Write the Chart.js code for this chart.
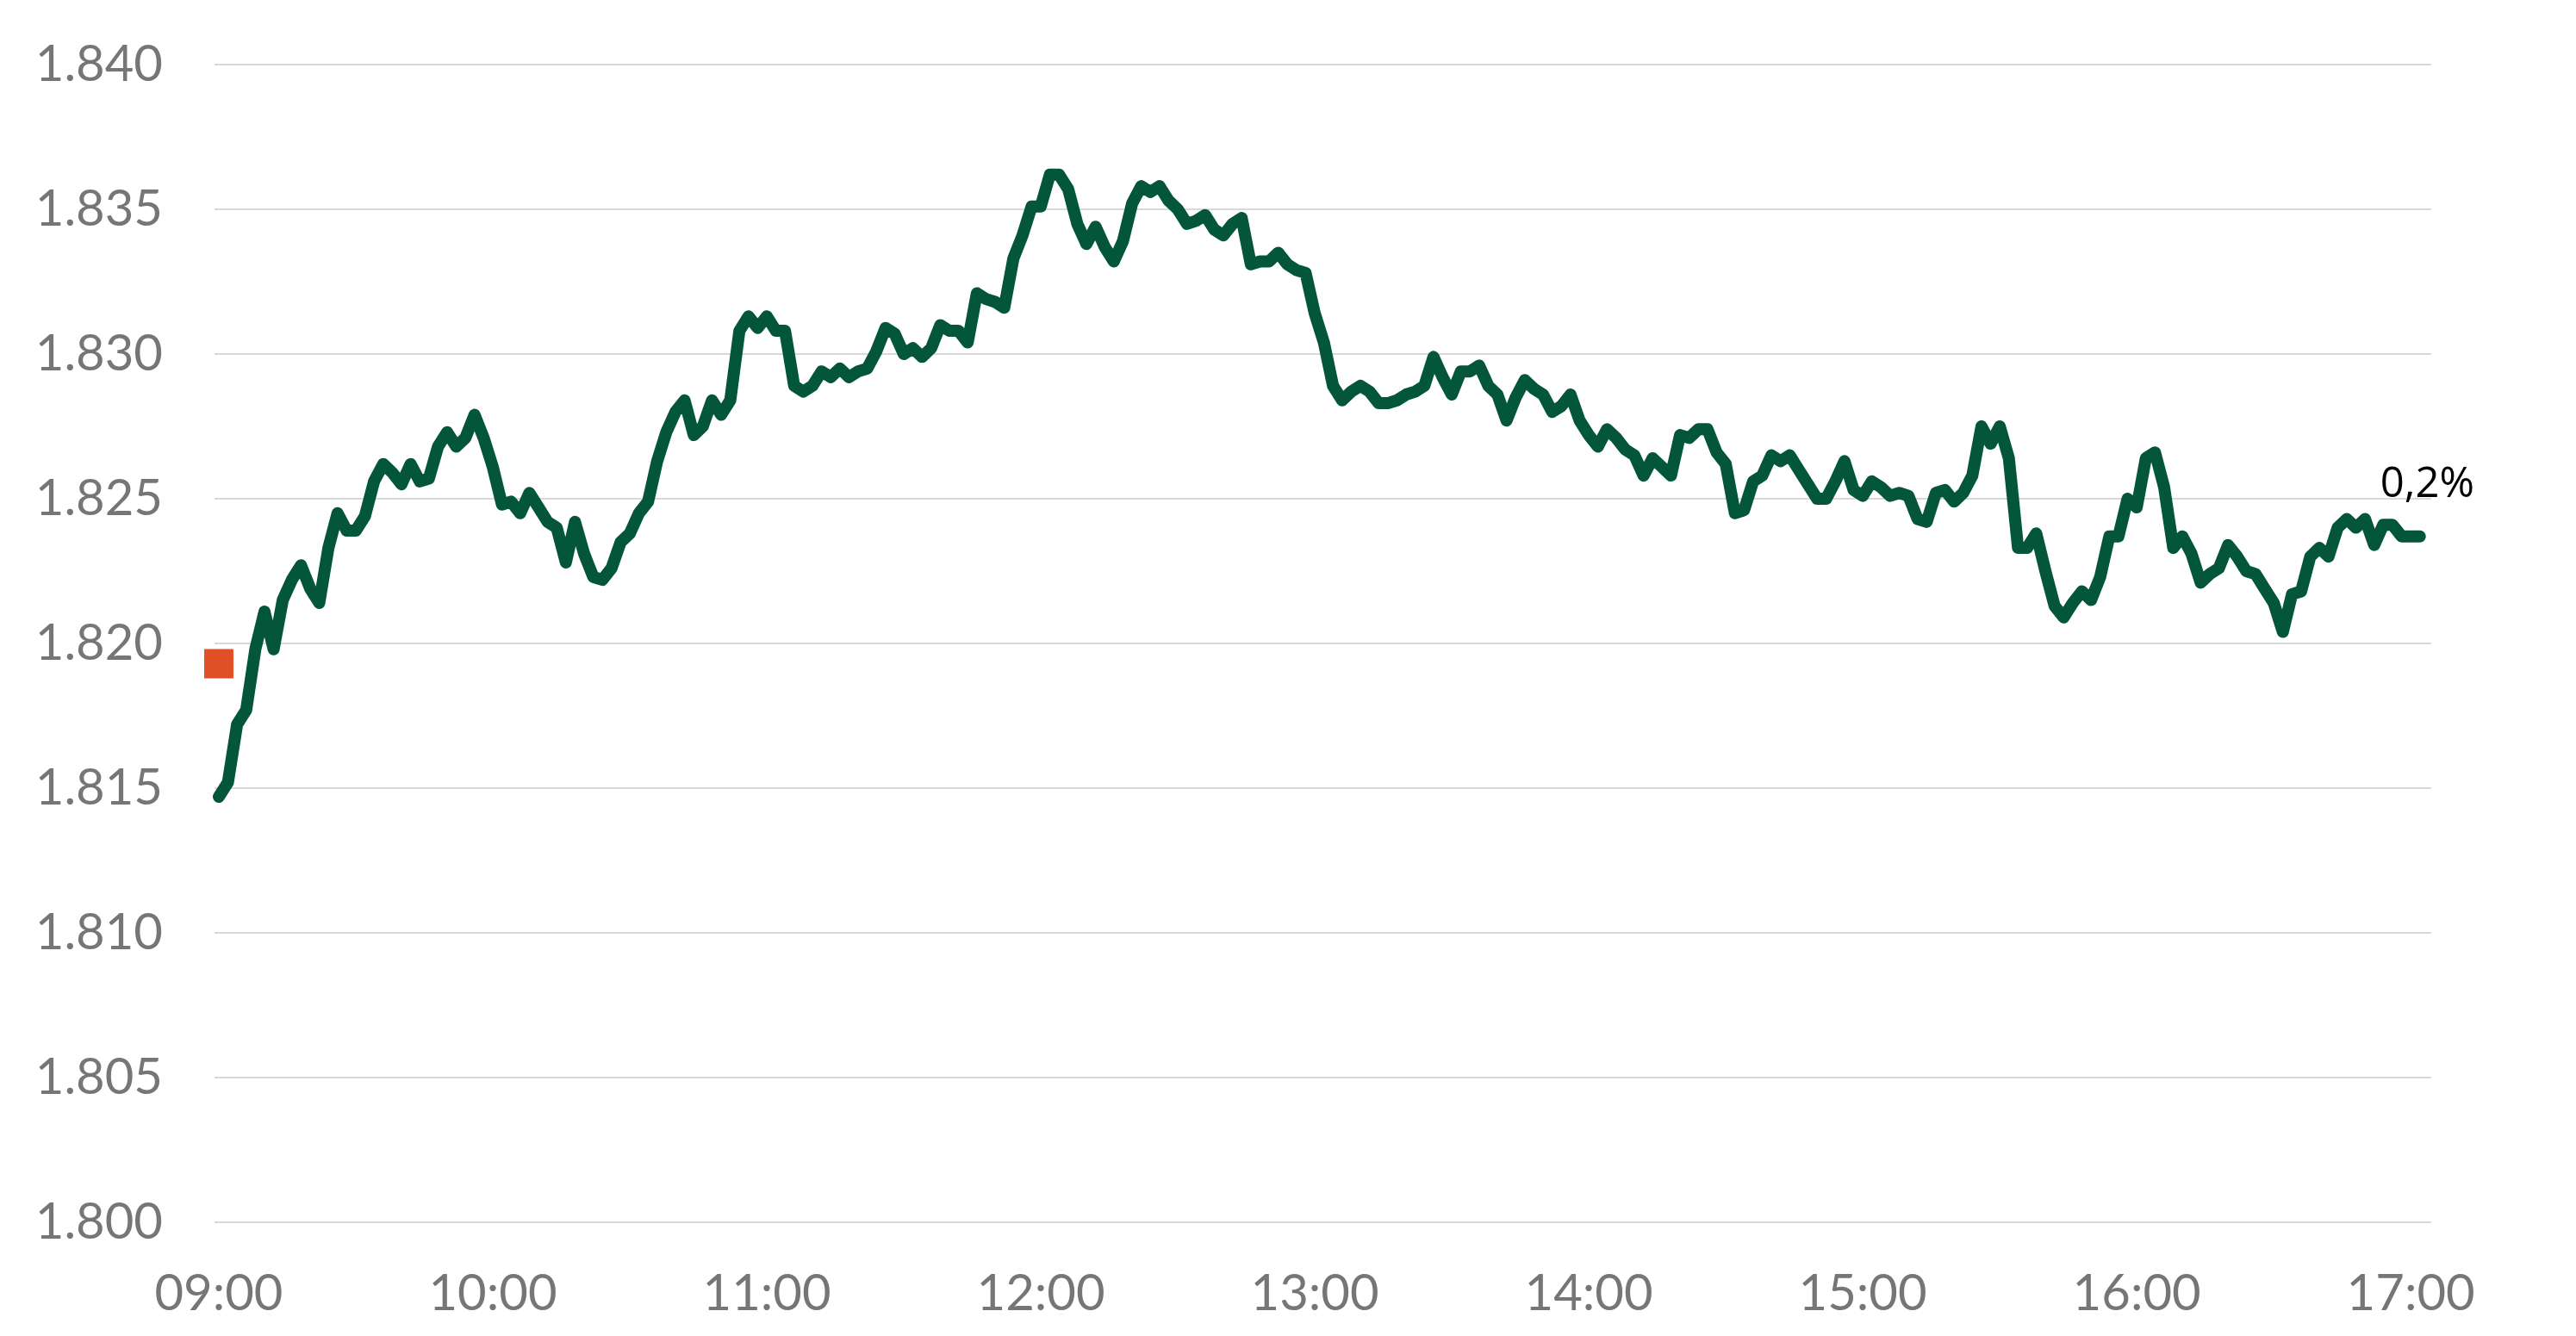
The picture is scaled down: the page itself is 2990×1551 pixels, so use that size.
<!DOCTYPE html>
<html>
<head>
<meta charset="utf-8">
<script src="https://cdn.jsdelivr.net/npm/chart.js@4.4.1/dist/chart.umd.min.js"></script>
<style>
html,body{margin:0;padding:0;background:#ffffff;}
canvas{display:block;}
</style>
</head>
<body>
<canvas id="c" width="2990" height="1551"></canvas>
<script>
// ---- data ----
const startTime = '09:00';
const stepMinutes = 2;
const prices = [
  // 09:00 - 10:02
  1814.7, 1815.2, 1817.2, 1817.7, 1819.8, 1821.1, 1819.8, 1821.5, 1822.2, 1822.7,
  1821.9, 1821.4, 1823.3, 1824.5, 1823.9, 1823.9, 1824.4, 1825.6, 1826.2, 1825.9,
  1825.5, 1826.2, 1825.6, 1825.7, 1826.8, 1827.3, 1826.8, 1827.1, 1827.9, 1827.1,
  1826.1, 1824.8,
  // next hour
  1824.9, 1824.5, 1825.2, 1824.7, 1824.2, 1824.0, 1822.8, 1824.2, 1823.1, 1822.3,
  1822.2, 1822.6, 1823.5, 1823.8, 1824.5, 1824.9, 1826.3, 1827.3, 1828.0, 1828.4,
  1827.2, 1827.5, 1828.4, 1827.9, 1828.4, 1830.8, 1831.3, 1830.9, 1831.3, 1830.8,
  // next hour
  1830.8, 1828.9, 1828.7, 1828.9, 1829.4, 1829.2, 1829.5, 1829.2, 1829.4, 1829.5,
  1830.1, 1830.9, 1830.7, 1830.0, 1830.2, 1829.9, 1830.2, 1831.0, 1830.8, 1830.8,
  1830.4, 1832.1, 1831.9, 1831.8, 1831.6, 1833.3, 1834.1, 1835.1, 1835.1, 1836.2,
  // next hour
  1836.2, 1835.7, 1834.5, 1833.8, 1834.4, 1833.7, 1833.2, 1833.9, 1835.2, 1835.8,
  1835.6, 1835.8, 1835.3, 1835.0, 1834.5, 1834.6, 1834.8, 1834.3, 1834.1, 1834.5,
  1834.7, 1833.1, 1833.2, 1833.2, 1833.5, 1833.1, 1832.9, 1832.8, 1831.4,
  // next hour
  1830.4, 1828.9, 1828.4, 1828.7, 1828.9, 1828.7, 1828.3, 1828.3, 1828.4, 1828.6,
  1828.7, 1828.9, 1829.9, 1829.2, 1828.6, 1829.4, 1829.4, 1829.6, 1828.9, 1828.6,
  1827.7, 1828.5, 1829.1, 1828.8, 1828.6, 1828.0, 1828.2, 1828.6, 1827.7, 1827.2,
  1826.8,
  // next hour
  1827.4, 1827.1, 1826.7, 1826.5, 1825.8, 1826.4, 1826.1, 1825.8, 1827.2, 1827.1,
  1827.4, 1827.4, 1826.6, 1826.2, 1824.5, 1824.6, 1825.6, 1825.8, 1826.5, 1826.3,
  1826.5, 1826.0, 1825.5, 1825.0, 1825.0, 1825.6, 1826.3, 1825.3, 1825.1, 1825.6,
  // next hour
  1825.4, 1825.1, 1825.2, 1825.1, 1824.3, 1824.2, 1825.2, 1825.3, 1824.9, 1825.2,
  1825.8, 1827.5, 1826.9, 1827.5, 1826.4, 1823.3, 1823.3, 1823.8, 1822.5, 1821.3,
  1820.9, 1821.4, 1821.8, 1821.5, 1822.3, 1823.7, 1823.7, 1825.0, 1824.7, 1826.4,
  1826.6,
  // last hour
  1825.4, 1823.3, 1823.7, 1823.1, 1822.1, 1822.4, 1822.6, 1823.4, 1823.0, 1822.5,
  1822.4, 1821.9, 1821.4, 1820.4, 1821.7, 1821.8, 1823.0, 1823.3, 1823.0, 1824.0,
  1824.3, 1824.0, 1824.3, 1823.4, 1824.1, 1824.1, 1823.7, 1823.7, 1823.7
];
const previousClose = 1819.3;
const changeLabel = '0,2%';
const xTickLabels = ['09:00','10:00','11:00','12:00','13:00','14:00','15:00','16:00','17:00'];
const yTickValues = [1800, 1805, 1810, 1815, 1820, 1825, 1830, 1835, 1840];
const yTickLabels = ['1.800','1.805','1.810','1.815','1.820','1.825','1.830','1.835','1.840'];

// ---- helpers ----
function toMinutes(s) {
  const [h, m] = s.split(':').map(Number);
  const [h0, m0] = startTime.split(':').map(Number);
  return (h - h0) * 60 + (m - m0);
}
const startMin = (() => { const [h, m] = startTime.split(':').map(Number); return h * 60 + m; })();
const times = prices.map((_, i) => {
  const t = startMin + i * stepMinutes;
  return String(Math.floor(t / 60)).padStart(2, '0') + ':' + String(t % 60).padStart(2, '0');
});
const lineData = prices.map((v, i) => ({ x: toMinutes(times[i]), y: v }));
const xTickMinutes = xTickLabels.map(toMinutes);

const GREEN = '#03563A';
const RED = '#E14F26';
const TICK_COLOR = '#767676';
const GRID_COLOR = '#d9d9d9';

const endLabel = {
  id: 'endLabel',
  afterDatasetsDraw(chart) {
    const meta = chart.getDatasetMeta(0);
    const p = meta.data[meta.data.length - 1];
    const ctx = chart.ctx;
    ctx.save();
    ctx.font = '49px "Open Sans"';
    ctx.fillStyle = '#000000';
    ctx.textAlign = 'left';
    ctx.textBaseline = 'alphabetic';
    ctx.fillText(changeLabel, p.x - 46, p.y - 46);
    ctx.restore();
  }
};

new Chart(document.getElementById('c'), {
  type: 'line',
  data: {
    datasets: [
      {
        data: lineData,
        borderColor: GREEN,
        borderWidth: 14,
        borderCapStyle: 'round',
        borderJoinStyle: 'round',
        pointRadius: 0,
        tension: 0,
        fill: false,
        clip: false
      },
      {
        data: [{ x: toMinutes(startTime), y: previousClose }],
        showLine: false,
        pointStyle: 'rect',
        pointRadius: 24,
        pointBackgroundColor: RED,
        pointBorderWidth: 0,
        borderWidth: 0,
        clip: false
      }
    ]
  },
  options: {
    responsive: false,
    devicePixelRatio: 1,
    animation: false,
    events: [],
    layout: { padding: { top: 75, right: 168, bottom: 0, left: 0 } },
    plugins: { legend: { display: false }, tooltip: { enabled: false } },
    scales: {
      x: {
        type: 'linear',
        min: -0.94,
        max: 484.5,
        grid: { display: false, drawTicks: false },
        border: { display: false },
        afterBuildTicks(scale) { scale.ticks = xTickMinutes.map(v => ({ value: v })); },
        afterFit(scale) { scale.height = 132; },
        ticks: {
          padding: 48,
          autoSkip: false,
          maxRotation: 0,
          color: TICK_COLOR,
          font: { family: 'Lato', size: 58 },
          callback: (v) => xTickLabels[xTickMinutes.indexOf(v)]
        }
      },
      y: {
        min: 1800,
        max: 1840,
        grid: { color: GRID_COLOR, lineWidth: 2, drawTicks: false },
        border: { display: false },
        afterBuildTicks(scale) { scale.ticks = yTickValues.map(v => ({ value: v })); },
        afterFit(scale) { scale.width = 249; scale.paddingTop = 0; scale.paddingBottom = 0; },
        ticks: {
          padding: 60,
          color: TICK_COLOR,
          font: { family: 'Lato', size: 58 },
          callback: (v) => yTickLabels[yTickValues.indexOf(v)]
        }
      }
    }
  },
  plugins: [endLabel]
});
</script>
</body>
</html>
